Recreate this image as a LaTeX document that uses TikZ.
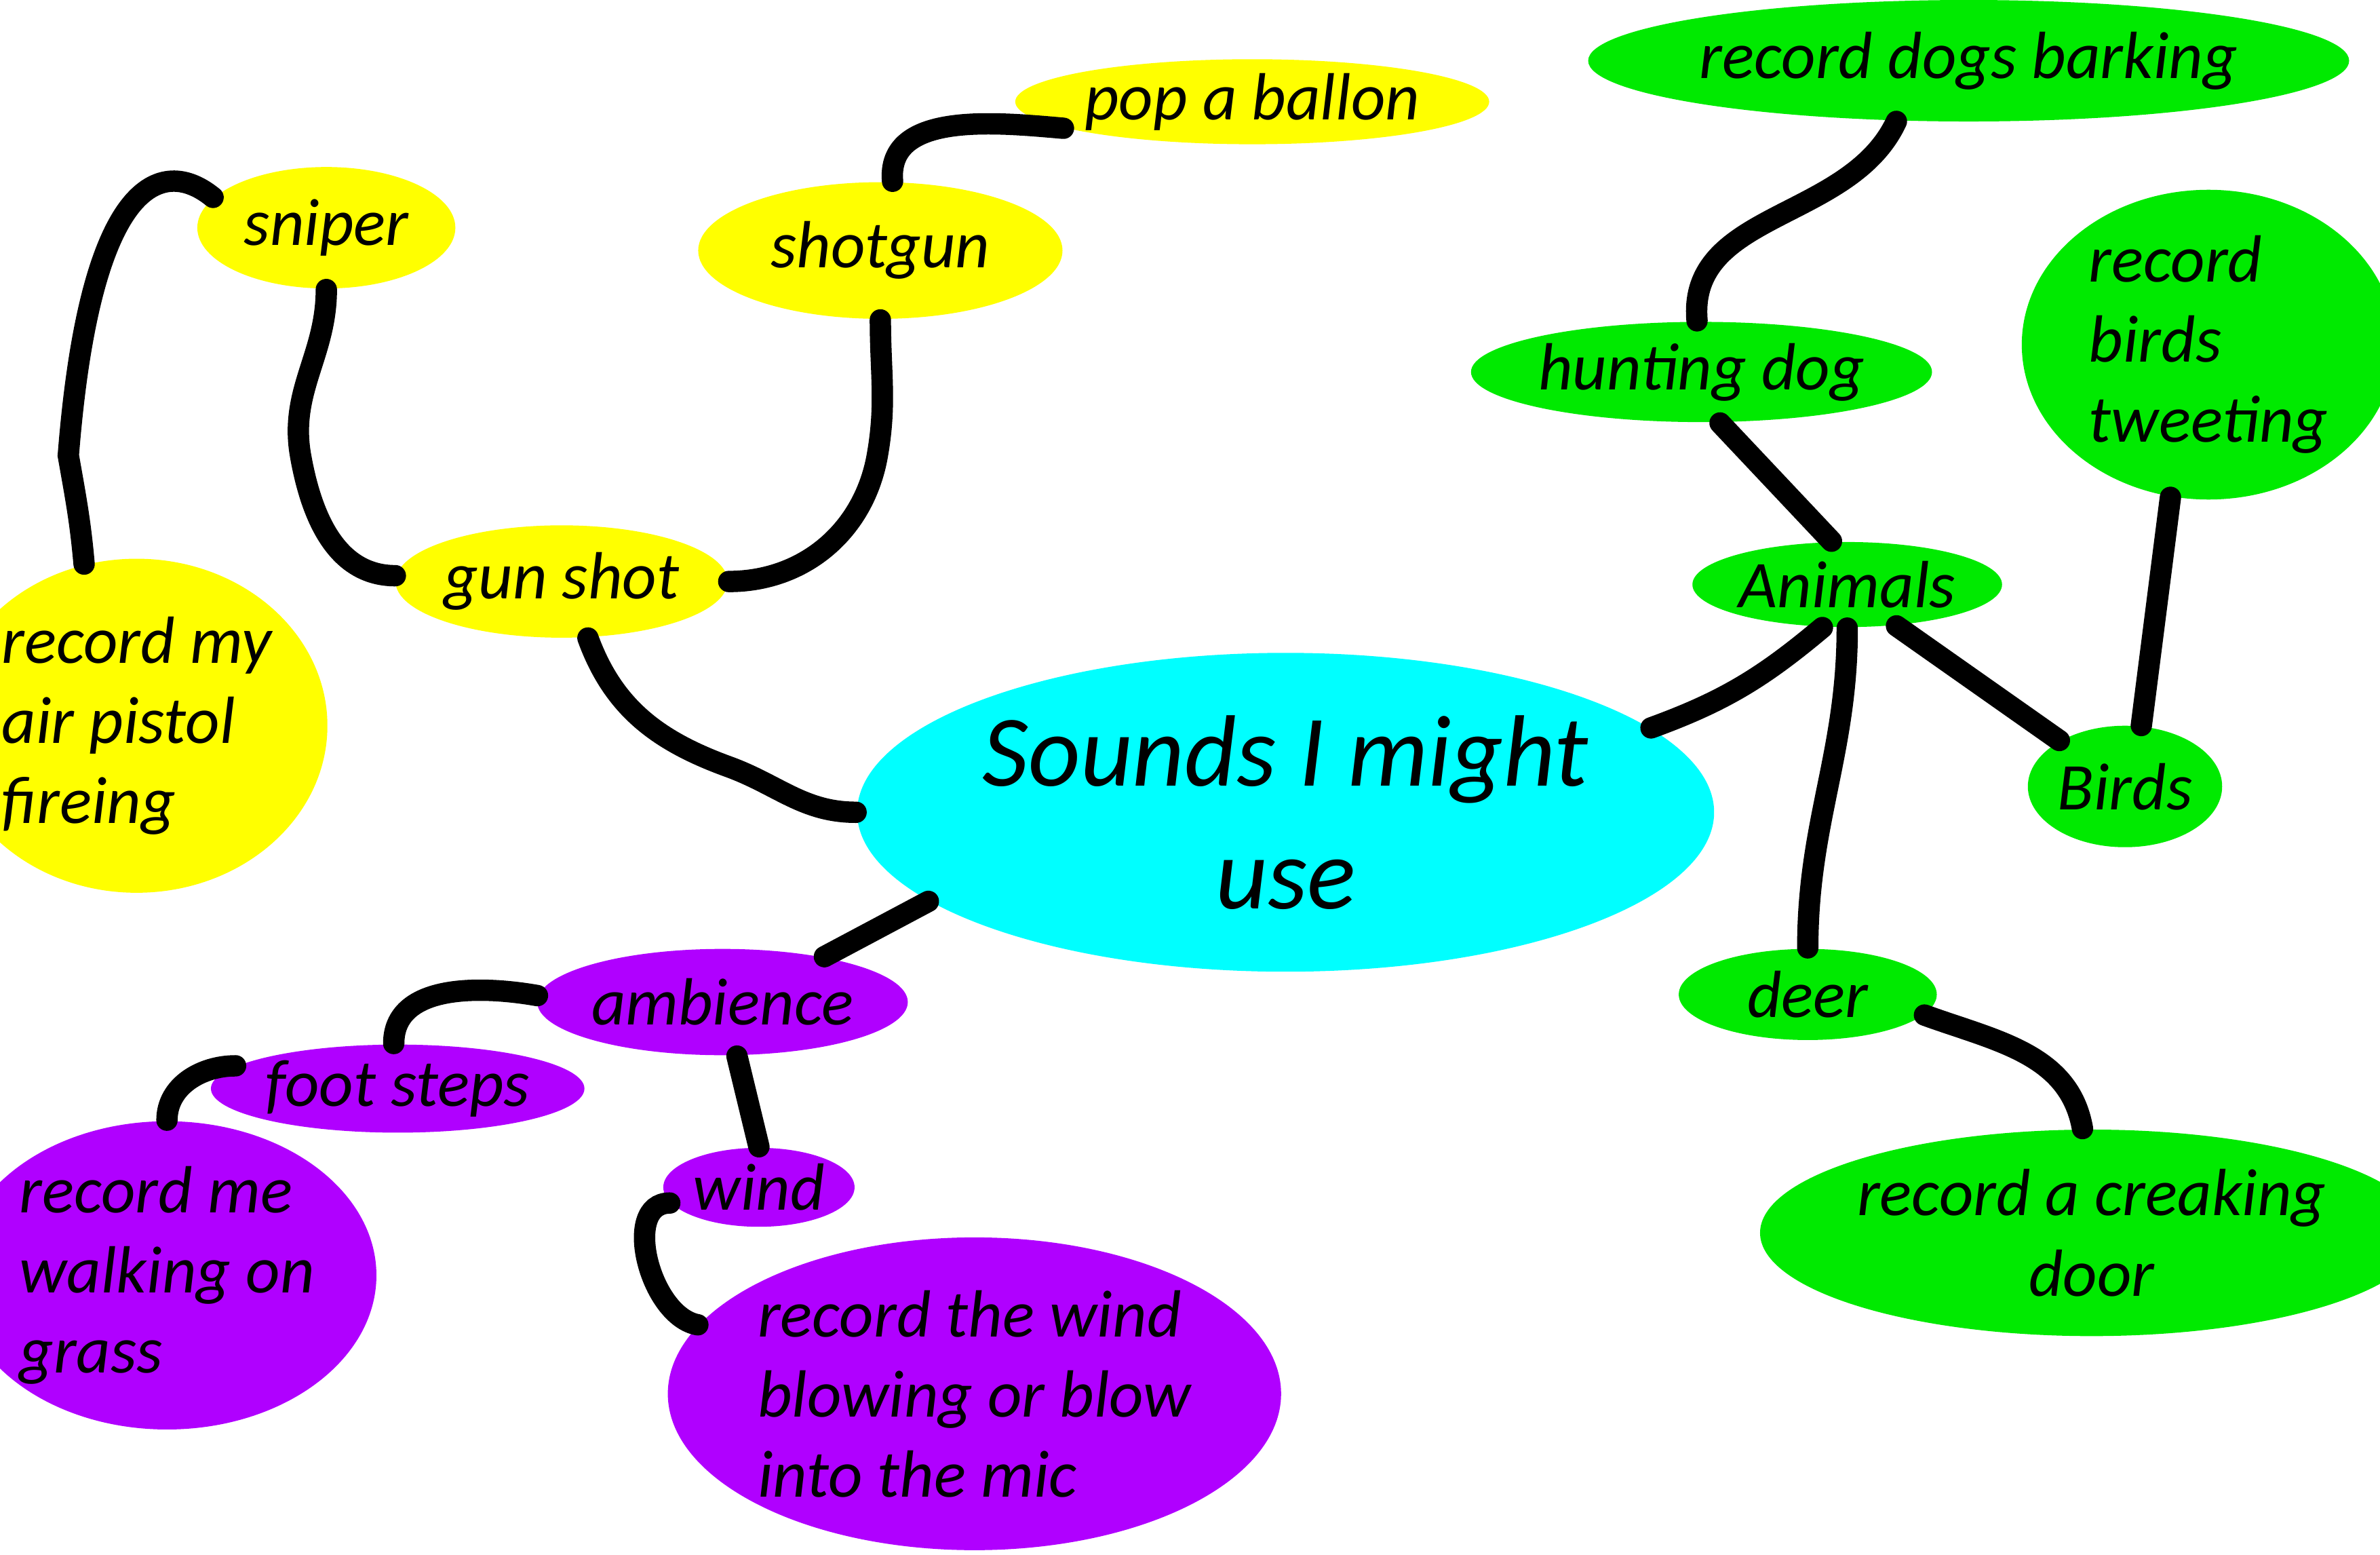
\documentclass[tikz,border=0pt]{standalone}
\usepackage{fontspec}
\setmainfont{Carlito}
\usetikzlibrary{shapes.geometric}
\definecolor{ylw}{RGB}{255,255,0}
\definecolor{cyn}{RGB}{0,255,255}
\definecolor{grn}{RGB}{0,234,0}
\definecolor{prp}{RGB}{176,0,255}
\begin{document}
\begin{tikzpicture}[x=0.01cm,y=-0.01cm,
		bubble/.style={ellipse,inner sep=0pt,align=left,font=\fontsize{12.5}{15}\selectfont\itshape},
		size/.style 2 args={minimum width=#1*0.01cm,minimum height=#2*0.01cm},
		link_style/.style={draw=black,line width=4pt,line cap=round}]
		\useasboundingbox (0,0) rectangle (1568,1024);
		% gun shot group
		\node[bubble,fill=ylw,size={304}{56}] (pop) at (825,67) {pop a ballon};
		\node[bubble,fill=ylw,size={240}{90}] (shotgun) at (580,165) {shotgun};
		\node[bubble,fill=ylw,size={170}{80}] (sniper) at (215,150) {sniper};
		\node[bubble,fill=ylw,size={194}{74}] (gunshot) at (370,383) {gun shot};
		\node[bubble,fill=ylw,size={244}{220}] (pistol) at (90,478) {record my\\air pistol\\fireing};
		% centre
		\node[bubble,fill=cyn,size={526}{210},align=center,font=\fontsize{19}{23}\selectfont\itshape] (centre) at (847,535) {Sounds I might\\use};
		% ambience group
		\node[bubble,fill=prp,size={208}{70}] (ambience) at (476,660) {ambience};
		\node[bubble,fill=prp,size={220}{58}] (steps) at (262,717) {foot steps};
		\node[bubble,fill=prp,size={126}{52}] (wind) at (500,782) {wind};
		\node[bubble,fill=prp,size={276}{196}] (grass) at (110,840) {record me\\walking on\\grass};
		\node[bubble,fill=prp,size={390}{206}] (blow) at (642,918) {record the wind\\blowing or blow\\into the mic};
		% animals group
		\node[bubble,fill=grn,size={420}{80}] (dogs) at (1297,40) {record dogs barking};
		\node[bubble,fill=grn,size={244}{66}] (hunting) at (1121,245) {hunting dog};
		\node[bubble,fill=grn,size={246}{204}] (tweet) at (1455,227) {record\\birds\\tweeting};
		\node[bubble,fill=grn,size={204}{56}] (animals) at (1217,385) {Animals};
		\node[bubble,fill=grn,size={128}{80}] (birds) at (1400,518) {Birds};
		\node[bubble,fill=grn,size={170}{60}] (deer) at (1191,655) {deer};
		\node[bubble,fill=grn,size={372}{136},align=center] (door) at (1378,812) {record a creaking\\door};
		% links
		\draw[link_style] (shotgun.80) to[out=95,in=175] (pop.188);
		\draw[link_style] (sniper.165) .. controls (110,105) and (60,110) .. (45,300) to[out=-80,in=95] (pistol.108);
		\draw[link_style] (sniper.270) to[out=-90,in=100] (198,300) to[out=-80,in=180] (gunshot.178);
		\draw[link_style] (gunshot.0) to[out=0,in=-100] (578,300) to[out=80,in=-90] (shotgun.270);
		\draw[link_style] (gunshot.-65) to[out=-70,in=160] (480,505) to[out=-20,in=180] (centre.180);
		\draw[link_style] (centre.194) -- (ambience.24);
		\draw[link_style] (ambience.178) to[out=170,in=90] (steps.95);
		\draw[link_style] (steps.172) to[out=180,in=90] (grass.90);
		\draw[link_style] (ambience.-75) -- (wind.90);
		\draw[link_style] (wind.190) to[out=180,in=170] (blow.166);
		\draw[link_style] (centre.13) to[out=20,in=-140] (animals.-120);
		\draw[link_style] (animals.110) -- (hunting.-70);
		\draw[link_style] (hunting.95) to[out=95,in=-115] (dogs.-140);
		\draw[link_style] (animals.-90) to[out=-90,in=90] (deer.90);
		\draw[link_style] (animals.-40) -- (birds.145);
		\draw[link_style] (birds.75) -- (tweet.-104);
		\draw[link_style] (deer.-10) to[out=-20,in=100] (door.95);
\end{tikzpicture}
\end{document}
